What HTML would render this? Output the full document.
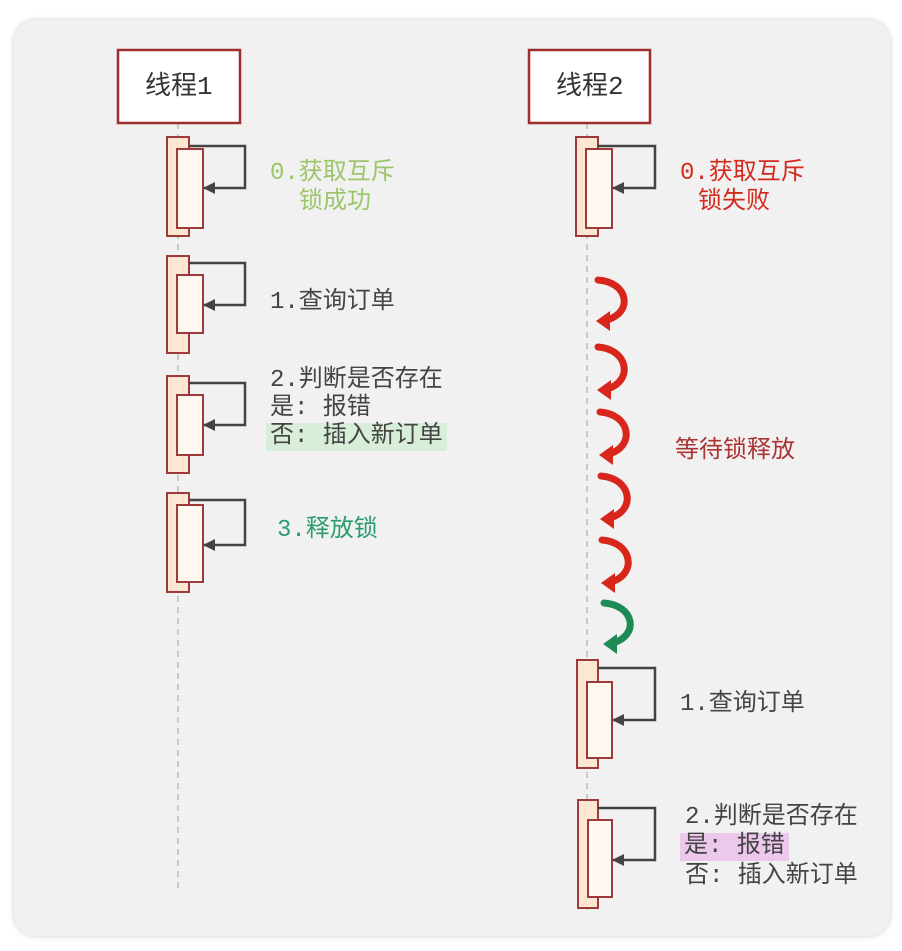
<!DOCTYPE html>
<html><head><meta charset="utf-8"><style>
body{margin:0;background:#fff;width:902px;height:951px;overflow:hidden;font-family:"Liberation Mono","Noto Sans CJK SC",monospace;}
.t{position:absolute;font-size:24px;white-space:nowrap;line-height:28px;}
</style></head><body>
<div style="position:absolute;left:14px;top:20px;width:876px;height:916px;background:#f1f1f1;border-radius:22px;box-shadow:0 0 6px #ccc;"></div>
<svg width="902" height="951" style="position:absolute;left:0;top:0">
<defs><marker id="ah" markerWidth="12" markerHeight="12" refX="11" refY="6" orient="auto" markerUnits="userSpaceOnUse"><path d="M0,0 L12,6 L0,12z" fill="#444"/></marker></defs>
<g stroke="#bbb" stroke-width="1.5" stroke-dasharray="6,5"><line x1="178" y1="123" x2="178" y2="890"/><line x1="587" y1="123" x2="587" y2="910"/></g>
<g fill="#fff" stroke="#9e2f2f" stroke-width="2.5"><rect x="118" y="50" width="122" height="73"/><rect x="529" y="50" width="121" height="73"/></g>
<g stroke="#9e3a3a" stroke-width="2">
<rect x="167" y="137" width="22" height="99" fill="#fde6d2"/><rect x="177" y="149" width="26" height="79" fill="#fff8f0"/>
<rect x="167" y="256" width="22" height="97" fill="#fde6d2"/><rect x="177" y="275" width="26" height="58" fill="#fff8f0"/>
<rect x="167" y="376" width="22" height="97" fill="#fde6d2"/><rect x="177" y="395" width="26" height="60" fill="#fff8f0"/>
<rect x="167" y="493" width="22" height="99" fill="#fde6d2"/><rect x="177" y="505" width="26" height="77" fill="#fff8f0"/>
<rect x="576" y="137" width="22" height="99" fill="#fde6d2"/><rect x="586" y="149" width="26" height="79" fill="#fff8f0"/>
<rect x="577" y="660" width="21" height="108" fill="#fde6d2"/><rect x="587" y="682" width="25" height="76" fill="#fff8f0"/>
<rect x="578" y="800" width="20" height="108" fill="#fde6d2"/><rect x="588" y="820" width="24" height="77" fill="#fff8f0"/>
</g>
<g fill="none" stroke="#444" stroke-width="2.5" marker-end="url(#ah)">
<path d="M189,146 H245 V188 H204"/>
<path d="M189,263 H245 V305 H204"/>
<path d="M189,383 H245 V425 H204"/>
<path d="M189,500 H245 V545 H204"/>
<path d="M598,146 H655 V188 H613"/>
<path d="M598,668 H655 V720 H613"/>
<path d="M598,808 H655 V860 H613"/>
</g>
<g fill="none" stroke-width="7" stroke-linecap="round">
<g stroke="#d9261c">
<path d="M598,280 C628,282 634,312 607,320"/><path d="M598,347 C628,349 634,381 607,389"/>
<path d="M600,412 C630,414 636,446 609,454"/><path d="M601,476 C631,478 637,510 610,518"/>
<path d="M602,540 C632,542 638,574 611,582"/></g>
<path stroke="#1f8a55" d="M604,603 C634,605 640,635 613,643"/>
</g>
<g stroke="none">
<path fill="#d9261c" d="M596,321 l14,-10 l0,20z M597,390 l14,-10 l0,20z M599,455 l14,-10 l0,20z M600,519 l14,-10 l0,20z M601,583 l14,-10 l0,20z"/>
<path fill="#1f8a55" d="M603,644 l14,-10 l0,20z"/>
</g>
</svg>
<div class="t" style="left:145px;top:73px;font-size:26px;color:#333">线程1</div>
<div class="t" style="left:556px;top:73px;font-size:26px;color:#333">线程2</div>
<div class="t" style="left:270px;top:160px;color:#9cc56a">0.获取互斥</div>
<div class="t" style="left:299px;top:189px;color:#9cc56a">锁成功</div>
<div class="t" style="left:270px;top:289px;color:#444">1.查询订单</div>
<div class="t" style="left:270px;top:367px;color:#444">2.判断是否存在</div>
<div class="t" style="left:270px;top:395px;color:#444">是: 报错</div>
<div class="t" style="left:266px;top:423px;color:#444;background:#d8eed8;padding:0 4px">否: 插入新订单</div>
<div class="t" style="left:277px;top:517px;color:#2a9d6e">3.释放锁</div>
<div class="t" style="left:680px;top:160px;color:#d42a1e">0.获取互斥</div>
<div class="t" style="left:698px;top:189px;color:#d42a1e">锁失败</div>
<div class="t" style="left:675px;top:438px;color:#a33">等待锁释放</div>
<div class="t" style="left:680px;top:691px;color:#444">1.查询订单</div>
<div class="t" style="left:685px;top:804px;color:#444">2.判断是否存在</div>
<div class="t" style="left:680px;top:833px;color:#444;background:#ecc8ec;padding:0 4px">是: 报错</div>
<div class="t" style="left:685px;top:863px;color:#444">否: 插入新订单</div>
</body></html>
